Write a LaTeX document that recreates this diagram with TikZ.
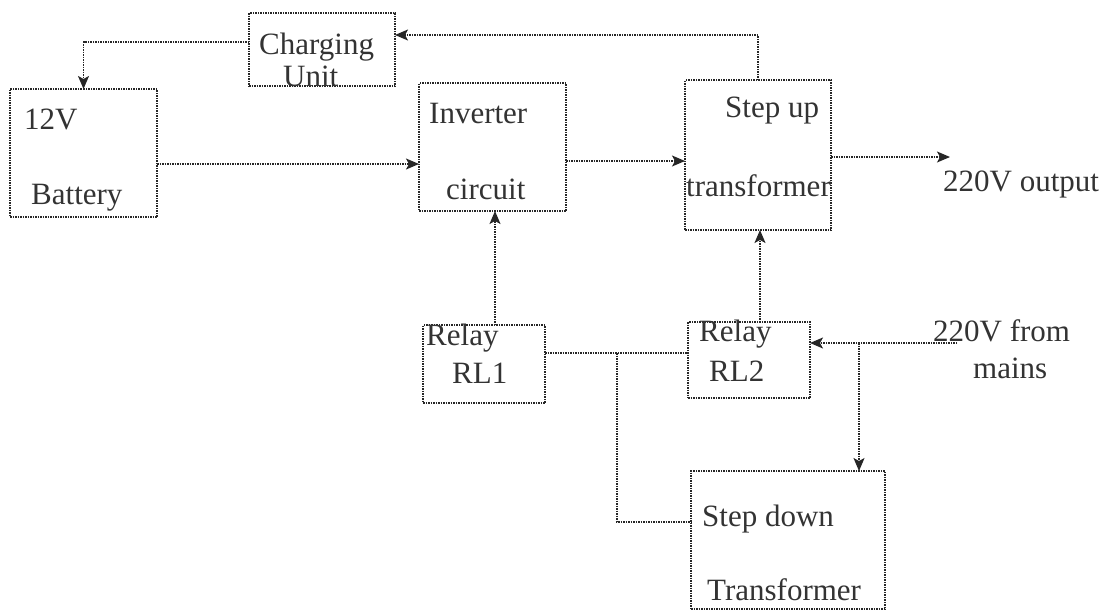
\documentclass[tikz,border=0pt]{standalone}
\usepackage{fontspec}
\setmainfont{Liberation Serif}
\usetikzlibrary{arrows.meta}
\begin{document}
\begin{tikzpicture}[x=1pt,y=-1pt,
  box/.style={draw=black!85, densely dotted, line width=1.5pt, inner sep=0pt, outer sep=0pt, anchor=north west},
  wire/.style={draw=black!85, densely dotted, line width=1.5pt},
  arr/.style={wire, -{Stealth[length=13pt,width=11pt,inset=3pt]}},
  txt/.style={inner sep=0pt, anchor=west, text=black!80, font=\fontsize{31}{36}\selectfont}]
\useasboundingbox (0,0) rectangle (1108,611);
% boxes
\node[box, minimum width=146pt, minimum height=73pt]  (chg) at (249,13)  {};
\node[box, minimum width=147pt, minimum height=128pt] (bat) at (10,89)   {};
\node[box, minimum width=147pt, minimum height=128pt] (inv) at (419,83)  {};
\node[box, minimum width=146pt, minimum height=150pt] (sup) at (685,80)  {};
\node[box, minimum width=122pt, minimum height=78pt]  (rl1) at (423,325) {};
\node[box, minimum width=122pt, minimum height=76pt]  (rl2) at (688,322) {};
\node[box, minimum width=194pt, minimum height=138pt] (sdn) at (691,471) {};
% texts
\node[txt] (tchg) at (259,47) {Charging};
\node[txt] (tunit) at (283,76) {Unit};
\node[txt] (t12v) at (24,119) {12V};
\node[txt] (tbat) at (31,198) {Battery};
\node[txt] (tinv) at (429,113) {Inverter};
\node[txt] (tcir) at (446,189) {circuit};
\node[txt] (tsu) at (725,111) {Step up};
\node[txt] (ttr) at (686,186) {transformer};
\node[txt] (tout) at (943,184) {220V output};
\node[txt] (trl1a) at (426,338) {Relay};
\node[txt] (trl1b) at (452,373) {RL1};
\node[txt] (trl2a) at (699,334) {Relay};
\node[txt] (trl2b) at (709,371) {RL2};
\node[txt] (tmn1) at (933,331) {220V from};
\node[txt] (tmn2) at (973,368) {mains};
\node[txt] (tsd1) at (702,519) {Step down};
\node[txt] (tsd2) at (707,590) {Transformer};
% helper coordinates
\coordinate (outend) at (950,157);
\coordinate (mainsin) at (957,343);
\coordinate (jA) at (617,353);
\coordinate (jB) at (859,343);
% connectors
\draw[arr] (chg.west |- 0,42) -| (bat.north);
\draw[arr] (sup.north) |- (chg.east |- 0,35);
\draw[arr] (bat.east |- 0,164) -- (inv.west |- 0,164);
\draw[arr] (inv.east |- 0,161) -- (sup.west |- 0,161);
\draw[arr] (sup.east |- 0,157) -- (outend);
\draw[arr] (rl1.north -| 495,0) -- (inv.south -| 495,0);
\draw[arr] (rl2.north -| 760,0) -- (sup.south -| 760,0);
\draw[wire] (rl1.east |- jA) -- (jA) -- (rl2.west |- jA);
\draw[wire] (jA) |- (sdn.west |- 0,522);
\draw[arr] (mainsin) -- (rl2.east |- mainsin);
\draw[arr] (jB) -- (sdn.north -| jB);
\end{tikzpicture}
\end{document}
